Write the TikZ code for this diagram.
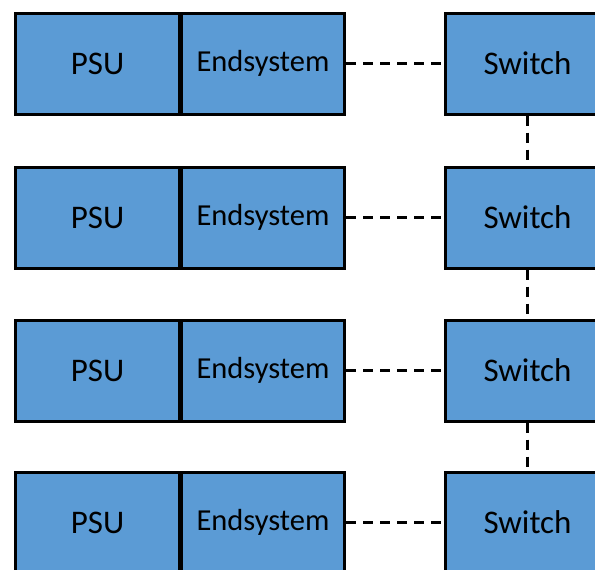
\documentclass[tikz,border=0pt]{standalone}
\usepackage{fontspec}
\setmainfont{Carlito}
\begin{document}
\begin{tikzpicture}[x=1pt,y=-1pt,
  blk/.style={draw=black, line width=3pt, fill=boxblue, anchor=north west,
    minimum height=101pt, inner sep=0pt, font=\fontsize{33}{40}\selectfont},
  psubox/.style={blk, minimum width=164pt},
  endbox/.style={blk, minimum width=163pt, font=\fontsize{30.5}{36}\selectfont},
  swbox/.style={blk, minimum width=164pt},
  link/.style={draw=black, line width=3pt, dash pattern=on 10pt off 7pt}]
\definecolor{boxblue}{HTML}{5B9BD5}
\useasboundingbox (0,0) rectangle (595,570);
\clip (0,0) rectangle (595,570);
\foreach \i/\y in {1/11.5, 2/165.5, 3/318.5, 4/470.5} {
  \node[psubox] (psu\i) at (14,\y) {PSU};
  \node[endbox] (end\i) at (180,\y) {Endsystem};
  \node[swbox] (sw\i) at (444,\y) {Switch};
  \draw[link] (end\i.east) -- (sw\i.west);
}
\foreach \a/\b in {1/2, 2/3, 3/4} {
  \draw[link] (sw\a.south) -- (sw\b.north);
}
\end{tikzpicture}
\end{document}
